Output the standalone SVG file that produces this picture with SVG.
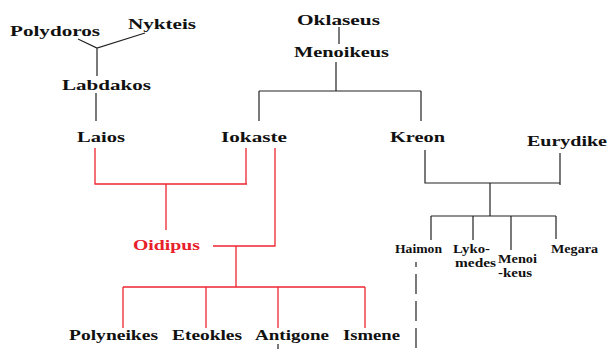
<svg xmlns="http://www.w3.org/2000/svg" width="608" height="349" viewBox="0 0 608 349">
<style>
text{font-family:"Liberation Serif","Times New Roman",serif;font-weight:bold;fill:#111}
.n{font-size:15.5px}
.s{font-size:12px}
.red{fill:#e8202a}
.k{stroke:#222;stroke-width:1.2;fill:none}
.r{stroke:#ee2630;stroke-width:1.3;fill:none}
.d{stroke:#222;stroke-width:1.2;stroke-dasharray:20 7;fill:none}
</style>
<rect width="608" height="349" fill="#fff"/>
<g id="connectors">
<path class="k" d="M78 39 L97 48 L145 33 M97 48 V76 M96 93 V121"/>
<path class="k" d="M339 27 V44 M336 62 V91 M259 91 H421 M259 91 V121 M421 91 V121"/>
<path class="k" d="M425 150 V183 H560 M560 153 V185 M490 183 V216 M431 216 H556 M431 216 V240 M473 216 V240 M511 216 V250 M556 216 V239"/>
<path class="d" d="M416 262 V349" stroke-dashoffset="15"/>
<path class="r" d="M95 148 V184 H247 M246 148 V184 M166 184 V230"/>
<path class="r" d="M275 148 V246 H213 M236 246 V287"/>
<path class="r" d="M123 287 H365 M123 287 V328 M206 287 V328 M278 287 V328 M365 287 V328"/>
<path class="k" d="M278 344 V349"/>
</g>
<g id="polydoros"><text class="n" x="10" y="36" textLength="90" lengthAdjust="spacingAndGlyphs">Polydoros</text></g>
<g id="nykteis"><text class="n" x="128" y="29" textLength="68" lengthAdjust="spacingAndGlyphs">Nykteis</text></g>
<g id="labdakos"><text class="n" x="62" y="90" textLength="89" lengthAdjust="spacingAndGlyphs">Labdakos</text></g>
<g id="laios"><text class="n" x="77" y="142" textLength="48" lengthAdjust="spacingAndGlyphs">Laios</text></g>
<g id="iokaste"><text class="n" x="221" y="142" textLength="66" lengthAdjust="spacingAndGlyphs">Iokaste</text></g>
<g id="oklaseus"><text class="n" x="297" y="25" textLength="83" lengthAdjust="spacingAndGlyphs">Oklaseus</text></g>
<g id="menoikeus"><text class="n" x="294" y="57" textLength="95" lengthAdjust="spacingAndGlyphs">Menoikeus</text></g>
<g id="kreon"><text class="n" x="390" y="142" textLength="55" lengthAdjust="spacingAndGlyphs">Kreon</text></g>
<g id="eurydike"><text class="n" x="527" y="146" textLength="80" lengthAdjust="spacingAndGlyphs">Eurydike</text></g>
<g id="oidipus"><text class="n red" x="133" y="250" textLength="67" lengthAdjust="spacingAndGlyphs">Oidipus</text></g>
<g id="haimon"><text class="s" x="395" y="253" textLength="47" lengthAdjust="spacingAndGlyphs">Haimon</text></g>
<g id="lykomedes"><text class="s" x="453" y="253" textLength="37" lengthAdjust="spacingAndGlyphs">Lyko-</text><text class="s" x="455" y="267" textLength="41" lengthAdjust="spacingAndGlyphs">medes</text></g>
<g id="menoikeus2"><text class="s" x="498" y="263" textLength="39" lengthAdjust="spacingAndGlyphs">Menoi</text><text class="s" x="498" y="277" textLength="34" lengthAdjust="spacingAndGlyphs">-keus</text></g>
<g id="megara"><text class="s" x="551" y="253" textLength="47" lengthAdjust="spacingAndGlyphs">Megara</text></g>
<g id="polyneikes"><text class="n" x="69" y="340" textLength="89" lengthAdjust="spacingAndGlyphs">Polyneikes</text></g>
<g id="eteokles"><text class="n" x="172" y="340" textLength="70" lengthAdjust="spacingAndGlyphs">Eteokles</text></g>
<g id="antigone"><text class="n" x="255" y="340" textLength="74" lengthAdjust="spacingAndGlyphs">Antigone</text></g>
<g id="ismene"><text class="n" x="343" y="340" textLength="57" lengthAdjust="spacingAndGlyphs">Ismene</text></g>
</svg>
